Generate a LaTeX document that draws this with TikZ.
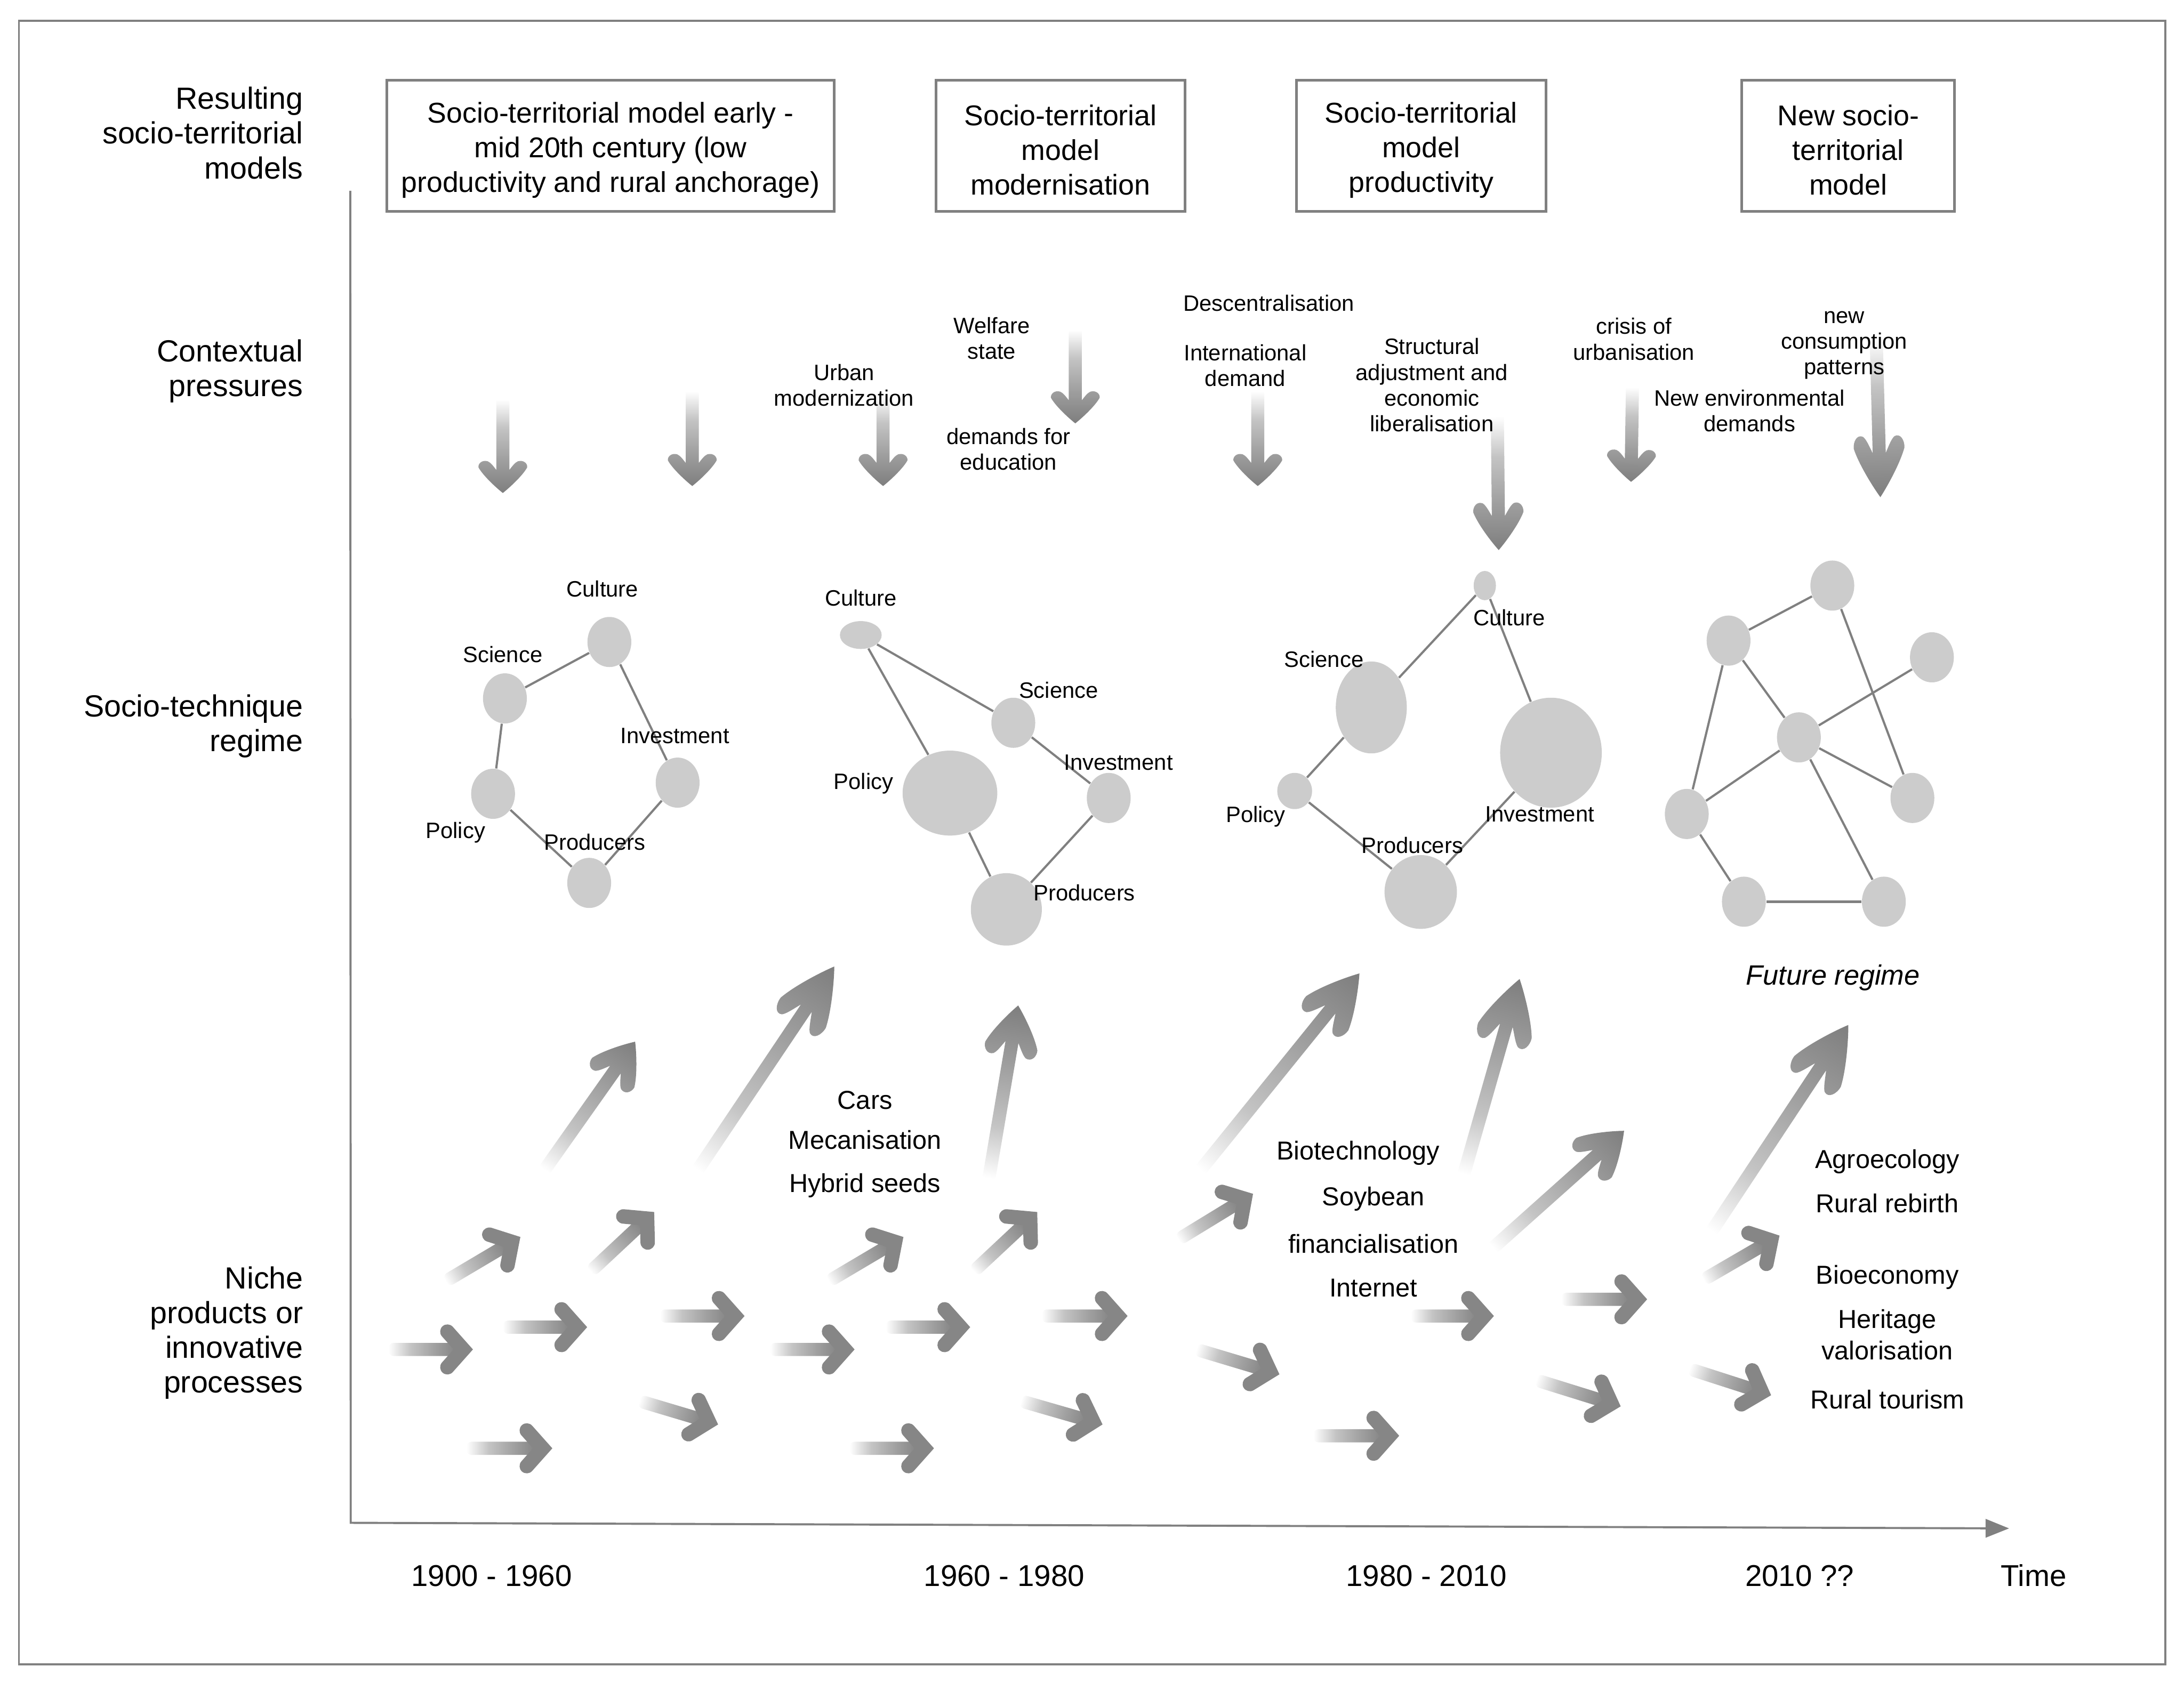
\documentclass[tikz,border=0pt]{standalone}
\usepackage{fontspec}
\setmainfont{Liberation Sans}
\usepackage{xcolor}
\usepackage{tikz}
\usetikzlibrary{arrows.meta,shapes.geometric}
\definecolor{framegray}{HTML}{808080}
\definecolor{nodegray}{HTML}{CCCCCC}
\definecolor{arrowgray}{HTML}{7E7E7E}
\definecolor{headgray}{HTML}{868686}
\definecolor{fadeA}{HTML}{C4C4C4}
\definecolor{fadeB}{HTML}{A0A0A0}
\pgfdeclarehorizontalshading{fadearrow}{100bp}{color(0bp)=(white); color(25bp)=(white); color(40bp)=(fadeA); color(57bp)=(fadeB); color(75bp)=(arrowgray); color(100bp)=(arrowgray)}
\tikzset{
  modelbox/.style={draw=framegray,line width=1.1pt,minimum height=1.884cm,inner sep=0pt},
  boxtxt/.style={align=center,inner sep=0pt,font=\fontsize{11.7}{14.2}\selectfont},
  rowlabel/.style={anchor=east,align=right,inner sep=0pt,font=\fontsize{12.5}{14.2}\selectfont},
  smalltxt/.style={align=center,inner sep=0pt,font=\fontsize{9.1}{10.5}\selectfont},
  nichetxt/.style={align=center,inner sep=0pt,font=\fontsize{10.6}{12.9}\selectfont},
  timetxt/.style={inner sep=0pt,font=\fontsize{12.3}{14.8}\selectfont},
  regnode/.style={ellipse,fill=nodegray,inner sep=0pt,minimum width=0.63cm,minimum height=0.72cm},
  reglink/.style={draw=framegray,line width=0.9pt},
  axisline/.style={draw=framegray,line width=0.85pt}
}
\newcommand{\bigflow}[6]{%
  \pgfmathsetmacro\flang{atan2(#2-#4,#3-#1)}%
  \pgfmathsetmacro\fllen{veclen(#3-#1,#4-#2)}%
  \begin{scope}[transform canvas={shift={(#1,#2)},rotate=\flang}]
    \shade[shading=fadearrow] (0,-4.7) -- ({\fllen-.72*#5},-4.7)
      .. controls ({\fllen-.85*#5},{-.4*#6}) and ({\fllen-.95*#5},{-.5*#6}) .. ({\fllen-.99*#5},{-.62*#6})
      .. controls ({\fllen-1.04*#5},{-.85*#6}) and ({\fllen-.92*#5},{-1.02*#6}) .. ({\fllen-.8*#5},{-#6})
      .. controls ({\fllen-.55*#5},{-.82*#6}) and ({\fllen-.18*#5},{-.3*#6}) .. (\fllen,0)
      .. controls ({\fllen-.18*#5},{.3*#6}) and ({\fllen-.55*#5},{.82*#6}) .. ({\fllen-.8*#5},#6)
      .. controls ({\fllen-.92*#5},{1.02*#6}) and ({\fllen-1.04*#5},{.85*#6}) .. ({\fllen-.99*#5},{.62*#6})
      .. controls ({\fllen-.95*#5},{.5*#6}) and ({\fllen-.85*#5},{.4*#6}) .. ({\fllen-.72*#5},4.7)
      -- (0,4.7) -- cycle;
  \end{scope}}
\newcommand{\smallflow}[4]{%
  \pgfmathsetmacro\flang{atan2(#2-#4,#3-#1)}%
  \pgfmathsetmacro\fllen{veclen(#3-#1,#4-#2)}%
  \begin{scope}[transform canvas={shift={(#1,#2)},rotate=\flang}]
    \shade[shading=fadearrow,rounded corners=2pt] (0,-4.7) rectangle ({\fllen-9},4.7);
    \draw[headgray,line width=5.9pt,line cap=round,line join=miter] ({\fllen-18.8},-12.8) -- ({\fllen-7.4},0) -- ({\fllen-18.8},12.8);
  \end{scope}}

\begin{document}
\begin{tikzpicture}[x=0.02cm,y=-0.02cm]
  \useasboundingbox (0,0) rectangle (1568,1208.5);
  \draw[framegray,line width=0.8pt] (13.6,14.9) rectangle (1554.6,1195);

  \node[rowlabel] (lres) at (218,95.5) {Resulting\\socio-territorial\\models};
  \node[rowlabel] (lctx) at (218,266.5) {Contextual\\pressures};
  \node[rowlabel] (lreg) at (218,521.5) {Socio-technique\\regime};
  \node[rowlabel] (lnic) at (218,957) {Niche\\products or\\innovative\\processes};

  \node[modelbox,minimum width=6.43cm] (m1) at (438.3,104.8) {};
  \node[modelbox,minimum width=3.574cm] (m2) at (761.4,104.8) {};
  \node[modelbox,minimum width=3.582cm] (m3) at (1020.3,104.8) {};
  \node[modelbox,minimum width=3.052cm] (m4) at (1326.9,104.8) {};
  \node[boxtxt] (m1txt) at ([yshift=-1.7pt]m1.center) {Socio-territorial model early -\\mid 20th century (low\\productivity and rural anchorage)};
  \node[boxtxt] (m2txt) at ([yshift=-1.7pt]m2.center) {Socio-territorial\\model\\modernisation};
  \node[boxtxt] (m3txt) at ([yshift=-1.7pt]m3.center) {Socio-territorial\\model\\productivity};
  \node[boxtxt] (m4txt) at ([yshift=-1.7pt]m4.center) {New socio-\\territorial\\model};

  \coordinate (ytop) at (251.5,137);
  \coordinate (origin) at (251.8,1093.5);
  \coordinate (tend) at (1442.4,1097.5);
  \draw[axisline,-{Triangle[length=9.6pt,width=7.5pt]}] (ytop) -- (origin) -- (tend);

  \foreach \ax/\ay/\bx/\by/\hl/\hw in {361/287/361/354/23/17.5, 497/281/497/349/23/17.5, 634/284/634/349/23/17.5,
      772/237/772/304/23/17.5, 903/281/903/349/23/17.5, 1075/299/1076/395/34/18, 1172/278/1171/346/23/17.5,
      1347/243/1350/357/44/18.2, 391/840/456/748/34/18.5, 501/840/599/694/50/19.5, 710/846/731/722/37/19,
      862/840/976/699/46/19.5, 1051/843/1091/703/48/20, 1072/896/1166/812/36/19, 1229/884/1327/736/50/20}
    {\bigflow{\ax}{\ay}{\bx}{\by}{\hl}{\hw}}
  \foreach \ax/\ay/\bx/\by in {279/969/340/969, 361/953/422/953, 474/945/535/945, 553/969/614/969,
      636/953/697/953, 748/945/810/945, 335/1040/397/1040, 610/1040/671/1040, 459/1006/516/1023,
      733/1006/792/1023, 859/969/919/987, 1013/945/1073/945, 1121/933/1183/933, 943/1031/1005/1031,
      1103/991/1164/1010, 1213/983/1272/1002, 320/920/374/888, 424/913/470/870, 595/920/649/888,
      699/913/745/870, 846/890/900/857, 1223/919/1278/887}
    {\smallflow{\ax}{\ay}{\bx}{\by}}

  \node[smalltxt] (twel) at (712,243) {Welfare\\state};
  \node[smalltxt] (turb) at (606,276.5) {Urban\\modernization};
  \node[smalltxt] (tedu) at (724,322.5) {demands for\\education};
  \node[smalltxt] (tdec) at (911,217.5) {Descentralisation};
  \node[smalltxt] (tint) at (894,262.5) {International\\demand};
  \node[smalltxt] (tadj) at (1028,276.5) {Structural\\adjustment and\\economic\\liberalisation};
  \node[smalltxt] (tcri) at (1173,243.5) {crisis of\\urbanisation};
  \node[smalltxt] (tcon) at (1324,248) {new\\consumption\\patterns};
  \node[smalltxt] (tenv) at (1256,295) {New environmental\\demands};

  \node[regnode] (c1) at (437.5,461) {};
  \node[regnode] (s1) at (362.5,501.5) {};
  \node[regnode] (p1) at (354,570) {};
  \node[regnode] (i1) at (486.5,562) {};
  \node[regnode] (r1) at (423,634) {};
  \draw[reglink] (s1) -- (c1);
  \draw[reglink] (s1) -- (p1);
  \draw[reglink] (p1) -- (r1);
  \draw[reglink] (r1) -- (i1);
  \draw[reglink] (i1) -- (c1);
  \node[smalltxt] (lc1) at (432.5,423) {Culture};
  \node[smalltxt] (ls1) at (361,470) {Science};
  \node[smalltxt] (li1) at (484.5,528.5) {Investment};
  \node[smalltxt] (lp1) at (327,598) {Policy};
  \node[smalltxt] (lr1) at (427,604.5) {Producers};

  \node[regnode,minimum width=0.6cm,minimum height=0.4cm] (c2) at (618,456) {};
  \node[regnode] (s2) at (727.5,519) {};
  \node[regnode,minimum width=1.36cm,minimum height=1.22cm] (p2) at (682,569.5) {};
  \node[regnode] (i2) at (796,573) {};
  \node[regnode,minimum width=1.02cm,minimum height=1.04cm] (r2) at (722.5,653) {};
  \draw[reglink] (c2) -- (s2);
  \draw[reglink] (c2) -- (p2);
  \draw[reglink] (s2) -- (i2);
  \draw[reglink] (i2) -- (r2);
  \draw[reglink] (p2) -- (r2);
  \node[smalltxt] (lc2) at (618,429.5) {Culture};
  \node[smalltxt] (ls2) at (760,495.5) {Science};
  \node[smalltxt] (li2) at (803,547.5) {Investment};
  \node[smalltxt] (lp2) at (620,562.5) {Policy};
  \node[smalltxt] (lr2) at (778.5,641) {Producers};

  \node[regnode,minimum width=0.32cm,minimum height=0.42cm] (c3) at (1066,420.5) {};
  \node[regnode,minimum width=1.02cm,minimum height=1.32cm] (s3) at (984.5,508) {};
  \node[regnode,minimum width=0.5cm,minimum height=0.52cm] (p3) at (929.5,568) {};
  \node[regnode,minimum width=1.46cm,minimum height=1.58cm] (i3) at (1113.5,540.5) {};
  \node[regnode,minimum width=1.04cm,minimum height=1.06cm] (r3) at (1020,640.5) {};
  \draw[reglink] (c3) -- (s3);
  \draw[reglink] (c3) -- (i3);
  \draw[reglink] (s3) -- (p3);
  \draw[reglink] (p3) -- (r3);
  \draw[reglink] (r3) -- (i3);
  \node[smalltxt] (lc3) at (1083.5,443.5) {Culture};
  \node[smalltxt] (ls3) at (950.5,473.5) {Science};
  \node[smalltxt] (lp3) at (901.5,586.5) {Policy};
  \node[smalltxt] (lr3) at (1014,607) {Producers};
  \node[smalltxt] (li3) at (1105.5,584.5) {Investment};

  \node[regnode] (f1) at (1315.5,420.5) {};
  \node[regnode] (f2) at (1241,460) {};
  \node[regnode] (f3) at (1387,472) {};
  \node[regnode] (f4) at (1291.5,529.5) {};
  \node[regnode] (f5) at (1373,573) {};
  \node[regnode] (f6) at (1211,584.5) {};
  \node[regnode] (f7) at (1252,647.5) {};
  \node[regnode] (f8) at (1352.5,647.5) {};
  \draw[reglink] (f2) -- (f1);
  \draw[reglink] (f1) -- (f5);
  \draw[reglink] (f2) -- (f4);
  \draw[reglink] (f2) -- (f6);
  \draw[reglink] (f3) -- (f4);
  \draw[reglink] (f4) -- (f6);
  \draw[reglink] (f4) -- (f5);
  \draw[reglink] (f4) -- (f8);
  \draw[reglink] (f6) -- (f7);
  \draw[reglink] (f7) -- (f8);
  \node[inner sep=0pt,font=\fontsize{11.4}{13.7}\selectfont\itshape] (lfut) at (1316,702) {Future regime};

  \node[nichetxt] (n1) at (621,790) {Cars};
  \node[nichetxt] (n2) at (621,818.5) {Mecanisation};
  \node[nichetxt] (n3) at (621,851.5) {Hybrid seeds};
  \node[nichetxt] (n4) at (975,828) {Biotechnology};
  \node[nichetxt] (n5) at (986,861) {Soybean};
  \node[nichetxt] (n6) at (986,893) {financialisation};
  \node[nichetxt] (n7) at (986,925) {Internet};
  \node[nichetxt] (n8) at (1355,834) {Agroecology};
  \node[nichetxt] (n9) at (1355,864) {Rural rebirth};
  \node[nichetxt] (n10) at (1355,917) {Bioeconomy};
  \node[nichetxt] (n11) at (1355,958.5) {Heritage\\valorisation};
  \node[nichetxt] (n12) at (1355,1005) {Rural tourism};

  \node[timetxt] (y1) at (353,1131.5) {1900 - 1960};
  \node[timetxt] (y2) at (721,1131.5) {1960 - 1980};
  \node[timetxt] (y3) at (1024,1131.5) {1980 - 2010};
  \node[timetxt] (y4) at (1292,1131.5) {2010 ??};
  \node[timetxt] (ytime) at (1460,1131.5) {Time};
\end{tikzpicture}
\end{document}
